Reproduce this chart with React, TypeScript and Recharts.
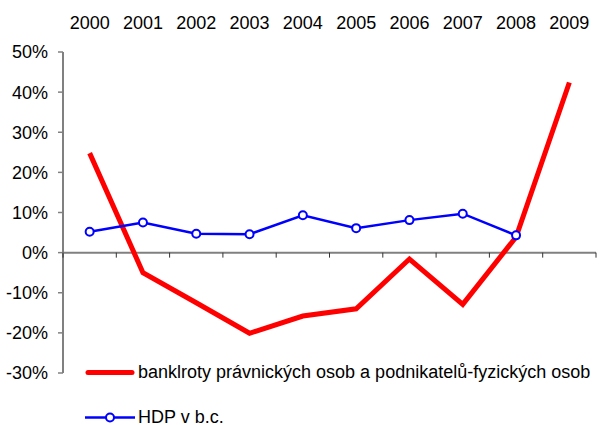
import { LineChart, Line, XAxis, YAxis, ReferenceLine, Legend } from 'recharts'

const years = ['2000', '2001', '2002', '2003', '2004', '2005', '2006', '2007', '2008', '2009']
const bankruptcies = [24.8, -5.0, -12.5, -20.1, -15.8, -14.0, -1.6, -12.9, 3.9, 42.4]
const gdp = [5.2, 7.5, 4.7, 4.6, 9.3, 6.1, 8.1, 9.7, 4.3, null]
const yTicks = [-30, -20, -10, 0, 10, 20, 30, 40, 50]

const bankruptName = 'banklroty právnických osob a podnikatelů-fyzických osob'
const gdpName = 'HDP v b.c.'
const seriesOrder = ['bankruptcies', 'gdp']

const data = years.map((year, i) => ({
  year,
  bankruptcies: bankruptcies[i],
  gdp: gdp[i],
}))

// layout
const W = 602
const H = 425
const TOP = 52
const LEFT = 63
const RIGHT = 6
const BOTTOM = 52
const plotH = H - TOP - BOTTOM
const bandW = (W - LEFT - RIGHT) / years.length
const zeroY = TOP + (50 / 80) * plotH
const axisGrey = '#808080'
const font = '"Liberation Sans", Arial, sans-serif'
const fontSize = 18

// year labels on top + category boundary ticks on the zero line
function YearTick(props: any) {
  const { x, payload, index } = props
  const left = x - bandW / 2
  return (
    <g>
      <text x={x} y={29} textAnchor="middle" fontSize={fontSize} fontWeight="normal" fill="#000" fontFamily={font}>
        {payload.value}
      </text>
      <line x1={left} x2={left} y1={zeroY} y2={zeroY + 5} stroke="#333" strokeWidth={1} />
      {index === years.length - 1 && (
        <line x1={left + bandW} x2={left + bandW} y1={zeroY} y2={zeroY + 5} stroke="#333" strokeWidth={1} />
      )}
    </g>
  )
}

function LegendBox(props: any) {
  const items = [...(props.payload || [])].sort(
    (a: any, b: any) => seriesOrder.indexOf(a.dataKey) - seriesOrder.indexOf(b.dataKey),
  )
  return (
    <div style={{ fontFamily: font, fontSize, color: '#000' }}>
      {items.map((entry: any) => {
        const isGdp = entry.dataKey === 'gdp'
        return (
          <div key={entry.dataKey} style={{ display: 'flex', alignItems: 'center', height: 45, whiteSpace: 'nowrap' }}>
            <svg width={50} height={45} style={{ marginRight: 3, flex: 'none' }}>
              <line
                x1={isGdp ? 0 : 3}
                x2={isGdp ? 50 : 47}
                y1={22.5}
                y2={22.5}
                stroke={entry.color}
                strokeWidth={isGdp ? 2.5 : 5}
                strokeLinecap={isGdp ? 'butt' : 'round'}
              />
              {isGdp && <circle cx={25} cy={22.5} r={4} fill="#fff" stroke={entry.color} strokeWidth={2} />}
            </svg>
            <span>{entry.value}</span>
          </div>
        )
      })}
    </div>
  )
}

export default function App() {
  return (
    <div style={{ position: 'absolute', left: 0, top: 0, background: '#fff' }}>
      <LineChart
        width={W}
        height={H}
        data={data}
        margin={{ top: TOP - 30, right: RIGHT, bottom: BOTTOM, left: 0 }}
        style={{ fontFamily: font }}
      >
        <XAxis
          dataKey="year"
          orientation="top"
          height={30}
          axisLine={false}
          tickLine={false}
          interval={0}
          padding={{ left: bandW / 2, right: bandW / 2 }}
          tick={<YearTick />}
        />
        <YAxis
          width={LEFT}
          domain={[-30, 50]}
          ticks={yTicks}
          interval={0}
          tickFormatter={(v) => `${v}%`}
          tick={{ fontSize, fill: '#000' }}
          tickSize={5}
          tickMargin={10}
          axisLine={{ stroke: axisGrey, strokeWidth: 2 }}
          tickLine={{ stroke: axisGrey, strokeWidth: 1.5 }}
        />
        <ReferenceLine y={0} stroke={axisGrey} strokeWidth={2} />
        <Line
          dataKey="bankruptcies"
          name={bankruptName}
          stroke="#ff0000"
          strokeWidth={5}
          dot={false}
          activeDot={false}
          isAnimationActive={false}
        />
        <Line
          dataKey="gdp"
          name={gdpName}
          stroke="#0000ff"
          strokeWidth={2.5}
          dot={{ r: 4, fill: '#fff', stroke: '#0000ff', strokeWidth: 2 }}
          activeDot={false}
          isAnimationActive={false}
        />
        <Legend
          layout="vertical"
          align="center"
          verticalAlign="middle"
          content={<LegendBox />}
          wrapperStyle={{ left: 85, top: 350, width: 517, height: 90 }}
        />
      </LineChart>
    </div>
  )
}
